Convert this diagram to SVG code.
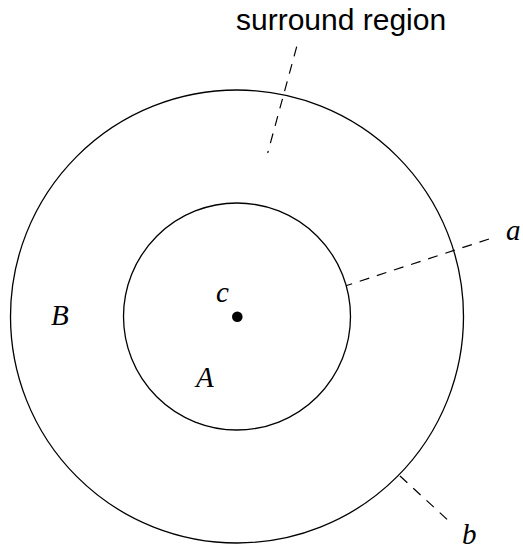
<svg xmlns="http://www.w3.org/2000/svg" width="523" height="550" viewBox="0 0 523 550">
<style>
.c{fill:none;stroke:#000;stroke-width:1.3}
.d{fill:none;stroke:#000;stroke-width:1.2;stroke-dasharray:10,8}
.m{font-family:"Liberation Serif",serif;font-style:italic;font-size:29px;fill:#000}
.s{font-family:"Liberation Sans",Arial,sans-serif;font-size:30px;fill:#000}
</style>
<rect width="523" height="550" fill="#fff"/>
<g id="outer"><circle class="c" cx="237" cy="316.5" r="226.5"/><text class="m" x="51" y="325">B</text></g>
<g id="inner"><circle class="c" cx="237" cy="316.5" r="113.5"/><text class="m" x="196" y="387">A</text></g>
<g id="center"><circle cx="237.3" cy="316.7" r="5.3" fill="#000"/><text class="m" x="216" y="302">c</text></g>
<g id="labels">
<text class="s" x="236" y="30">surround region</text>
<text class="m" x="506" y="240">a</text>
<text class="m" x="462" y="544">b</text>
</g>
<g id="connectors">
<line class="d" x1="296.7" y1="46.7" x2="267.7" y2="153"/>
<line class="d" x1="489" y1="239" x2="346" y2="285.7"/>
<line class="d" x1="400" y1="476" x2="450.7" y2="522.7"/>
</g>
</svg>
